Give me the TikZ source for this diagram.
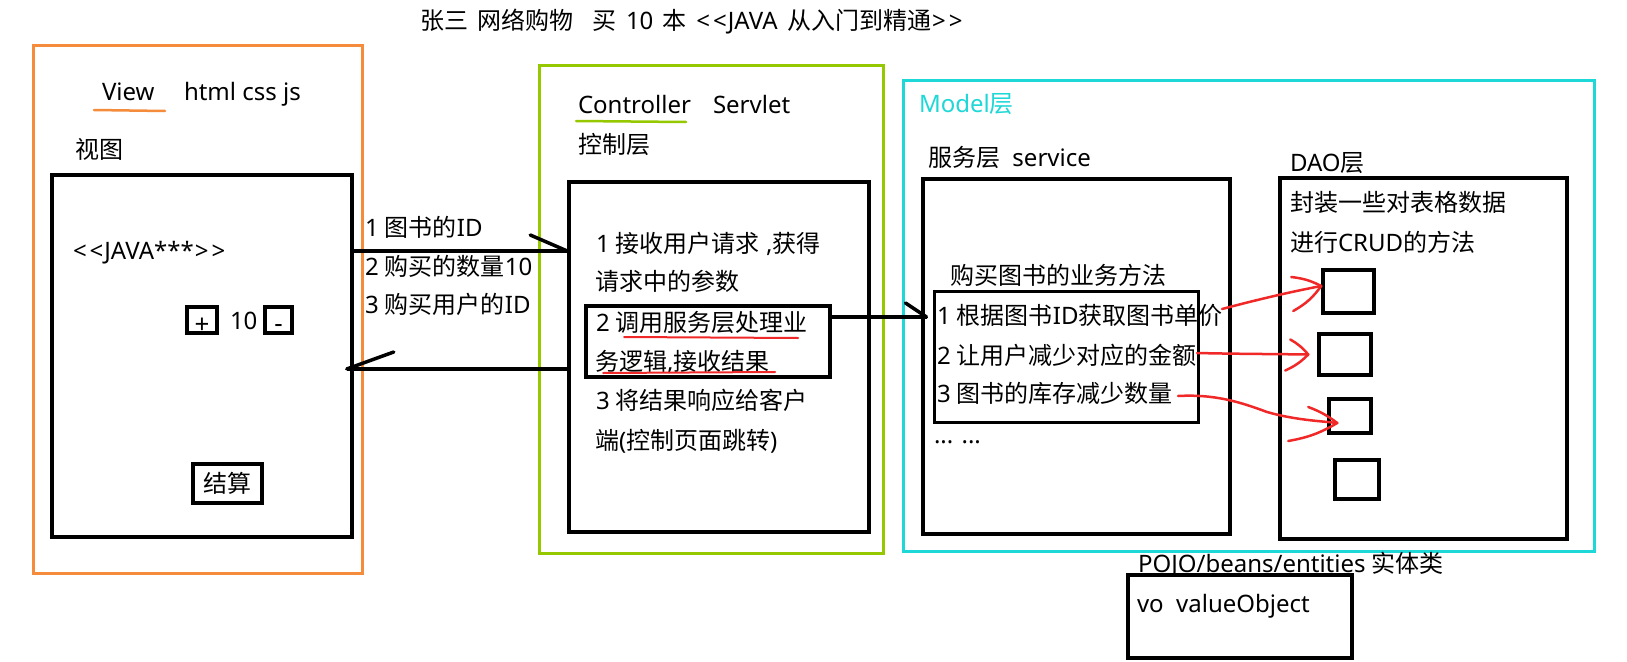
\documentclass[tikz,border=0pt]{standalone}
\usepackage{fontspec}
\setmainfont{Noto Sans}
\newfontfamily\zhfont{Noto Sans CJK SC}
\newcommand\zh[1]{{\zhfont #1}}
\newcommand\dlt{<\kern3pt<\kern1pt}
\newcommand\dgt{\kern1pt>\kern3pt>}
\usetikzlibrary{fit}
\definecolor{vieworange}{RGB}{245,140,60}
\definecolor{ctrlgreen}{RGB}{150,200,0}
\definecolor{modelcyan}{RGB}{30,215,215}
\definecolor{inkred}{RGB}{240,40,40}
\begin{document}
\begin{tikzpicture}[x=1pt,y=-1pt,
  every node/.style={font=\fontsize{24}{28}\selectfont},
  txt/.style={anchor=base west, inner sep=0pt, outer sep=0pt},
  layerframe/.style={draw, line width=3pt, inner sep=0pt},
  blkbox/.style={draw=black, line width=3.5pt, inner sep=0pt},
  thinbox/.style={draw=black, line width=3pt, inner sep=0pt},
  btnbox/.style={draw=black, line width=3.5pt, inner sep=0pt,
    font=\fontsize{26}{26}\selectfont\bfseries},
  conn/.style={draw=black, line width=3.5pt},
  barb/.style={draw=black, line width=3.5pt, line cap=round},
  redpen/.style={draw=inkred, line width=2.5pt, line cap=round, line join=round},
  uline/.style={line width=2.5pt, line cap=round},
]
\useasboundingbox[fill=white] (0,0) rectangle (1627,661);

% ---------- title ----------
\node[txt] (title) at (420,30) {\spaceskip=9.5pt\zh{张三} \zh{网络购物}\ \ \zh{买} 10 \zh{本} \dlt JAVA \zh{从入门到精通}\dgt};

% ---------- View layer ----------
\node[layerframe, draw=vieworange, fit={(33,46)(362,573)}] (viewframe) {};
\node[txt] (viewlbl) at (102,100) {View};
\node[txt] (viewtech) at (184,100) {html css js};
\draw[uline, vieworange] (94,110) -- (165,111);
\node[txt] (viewzh) at (75,158) {\zh{视图}};
\node[blkbox, fit={(52,175)(352,537)}] (viewbox) {};
\node[txt] (book) at (73,259) {\dlt JAVA***\dgt};
\node[btnbox, minimum width=30pt, minimum height=26pt, text height=26pt, text depth=-4pt] (plus) at (202,320) {+};
\node[txt] (qty) at (230,329) {10};
\node[btnbox, minimum width=27pt, minimum height=26pt, text height=24pt, text depth=-2pt] (minus) at (278.5,320) {-};
\node[blkbox, minimum width=69pt, minimum height=39pt] (pay) at (227.5,483.5) {\zh{结算}};

% ---------- request parameters ----------
\node[txt] (p1) at (365,236) {1 \zh{图书的}ID};
\node[txt] (p2) at (365,275) {2 \zh{购买的数量}10};
\node[txt] (p3) at (365,313) {3 \zh{购买用户的}ID};

% ---------- Controller layer ----------
\node[layerframe, draw=ctrlgreen, fit={(539,66)(883,553)}] (ctrlframe) {};
\node[txt] (ctrllbl) at (578,113) {Controller};
\node[txt] (ctrltech) at (713,113) {Servlet};
\draw[uline, ctrlgreen] (576,121) -- (686,122);
\node[txt] (ctrlzh) at (578,153) {\zh{控制层}};
\node[blkbox, fit={(569,182)(869,532)}] (ctrlbox) {};
\node[txt] (c1a) at (596,252) {1 \zh{接收用户请求} ,\zh{获得}};
\node[txt] (c1b) at (595,290) {\zh{请求中的参数}};
\node[blkbox, fit={(586,306)(830,377)}] (callbox) {};
\node[txt] (c2a) at (596,331) {2 \zh{调用服务层处理业}};
\node[txt] (c2b) at (595,370) {\zh{务逻辑},\zh{接收结果}};
\draw[line width=2pt, inkred, line cap=round] (624,337) -- (798,338);
\draw[line width=2pt, inkred, line cap=round] (603,373) -- (775,372);
\node[txt] (c3a) at (596,409) {3 \zh{将结果响应给客户}};
\node[txt] (c3b) at (595,449) {\zh{端}(\zh{控制页面跳转})};

% ---------- Model layer ----------
\node[layerframe, draw=modelcyan, fit={(903,80)(1594,551)}] (modelframe) {};
\node[txt, text=modelcyan] (modellbl) at (919,112) {Model\zh{层}};
\node[txt] (svclbl) at (928,166) {\zh{服务层}\ \ service};
\node[blkbox, fit={(923,179)(1230,534)}] (svcbox) {};
\node[txt] (methlbl) at (950,284) {\zh{购买图书的业务方法}};
\node[thinbox, fit={(934,291)(1198,422)}] (methbox) {};
\node[txt] (m1) at (937,324) {1 \zh{根据图书}ID\zh{获取图书单价}};
\node[txt] (m2) at (937,364) {2 \zh{让用户减少对应的金额}};
\node[txt] (m3) at (937,402) {3 \zh{图书的库存减少数量}};
\node[txt] (more) at (934,443) {... ...};

\node[txt] (daolbl) at (1290,171) {DAO\zh{层}};
\node[blkbox, fit={(1280,178)(1567,539)}] (daobox) {};
\node[txt] (dao1) at (1290,211) {\zh{封装一些对表格数据}};
\node[txt] (dao2) at (1290,251) {\zh{进行}CRUD\zh{的方法}};
\node[blkbox, minimum width=51pt, minimum height=43pt] (t1) at (1348.5,291.5) {};
\node[blkbox, minimum width=52pt, minimum height=41pt] (t2) at (1345,354.5) {};
\node[blkbox, minimum width=42pt, minimum height=34pt] (t3) at (1350,416) {};
\node[blkbox, minimum width=44pt, minimum height=39pt] (t4) at (1357,479.5) {};

% ---------- POJO ----------
\node[txt] (pojolbl) at (1138,572) {POJO/beans/entities \zh{实体类}};
\node[blkbox, fit={(1128,575)(1352,658)}] (vobox) {};
\node[txt] (volbl) at (1137,612) {vo\ \ valueObject};

% ---------- black connectors ----------
\coordinate (a1) at (450,251);
\coordinate (a2) at (450,369);
\coordinate (a3) at (880,317);
\draw[conn] (viewbox.east |- a1) -- (ctrlbox.west |- a1);
\draw[barb] (ctrlbox.west |- a1) -- ++(-37,-16);
\draw[conn] (ctrlbox.west |- a2) -- ([xshift=-7pt]viewbox.east |- a2);
\draw[barb] ([xshift=-7pt]viewbox.east |- a2) -- ++(47,-17);
\draw[conn] (callbox.east |- a3) -- ([xshift=-6pt]methbox.west |- a3);
\draw[barb] ([xshift=-6pt]methbox.west |- a3) -- ++(-21,-14);

% ---------- red connectors ----------
\coordinate (r1s) at (1222,309);
\coordinate (r2s) at (1197,353);
\coordinate (r3s) at (1178,396);
\coordinate (r1e) at ([yshift=5.5pt]t1.west);
\coordinate (r2e) at ([xshift=-9pt]t2.west);
\coordinate (r3e) at ([xshift=10pt,yshift=-7pt]t3.west);
\draw[redpen] (r1s) .. controls (1260,299) and (1290,292) .. (r1e);
\draw[redpen] (r1e) to[bend right=10] ++(-30,-9);
\draw[redpen] (r1e) to[bend left=12] ++(-28,25);
\draw[redpen] (r2s) .. controls (1240,354) and (1275,354) .. (r2e);
\draw[redpen] (r2e) to[bend right=10] ++(-18,-15);
\draw[redpen] (r2e) to[bend left=10] ++(-23,16);
\draw[redpen] (r3s) .. controls (1215,394) and (1240,402) .. (1267,412) .. controls (1295,420) and (1320,421) .. (r3e);
\draw[redpen] (r3e) to[bend right=8] ++(-29,-16);
\draw[redpen] (r3e) to[bend left=10] ++(-49,18);
\end{tikzpicture}
\end{document}
